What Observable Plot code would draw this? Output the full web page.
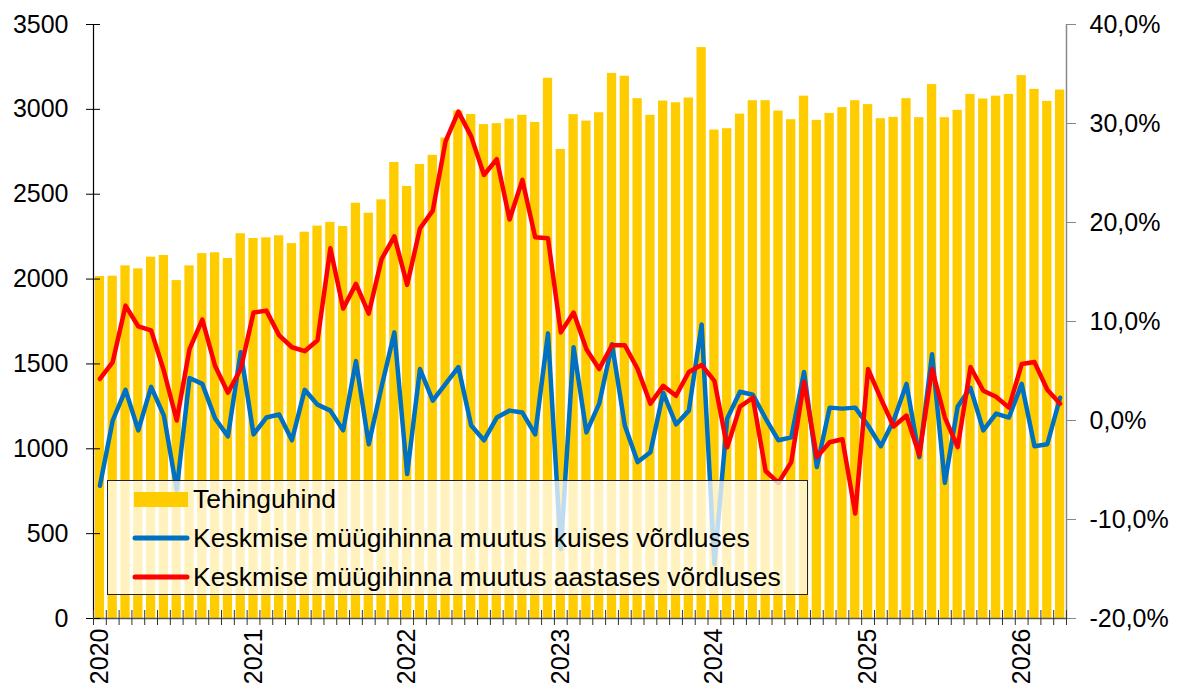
<!DOCTYPE html>
<html><head><meta charset="utf-8">
<script src="https://cdn.jsdelivr.net/npm/d3@7"></script>
<script src="https://cdn.jsdelivr.net/npm/@observablehq/plot@0.6"></script>
<style>
html,body{margin:0;padding:0;background:#fff;}
#wrap{position:relative;width:1182px;height:689px;font-family:"Liberation Sans",Arial,sans-serif;}
#legend{position:absolute;left:107px;top:480px;width:699px;height:113px;background:rgba(255,255,255,0.75);border:1px solid #222;}
#legend .sw{position:absolute;left:26px;width:54px;}
#legend .lbl{position:absolute;left:85px;font-size:26.5px;line-height:30px;color:#000;white-space:nowrap;}
</style></head>
<body><div id="wrap"></div>
<script>
const years = ["2020","2021","2022","2023","2024","2025","2026"];
const price = [2015,2017,2078,2060,2129,2139,1991,2078,2150,2155,2121,2267,
2239,2243,2255,2209,2276,2312,2334,2310,2447,2388,2467,2687,
2546,2675,2729,2831,2990,2970,2910,2916,2943,2965,2923,3183,
2764,2969,2931,2980,3212,3195,3063,2965,3049,3039,3067,3364,
2878,2886,2972,3051,3051,2990,2939,3078,2935,2976,3010,3051,
3028,2945,2953,3063,2951,3146,2951,2994,3088,3061,3078,3088,
3199,3118,3047,3114];
const mom = [-6.6,0.0,3.1,-1.0,3.4,0.5,-7.0,4.3,3.7,0.2,-1.6,6.9,
-1.4,0.3,0.6,-2.0,3.1,1.6,1.0,-1.0,6.0,-2.4,3.4,8.9,
-5.4,5.2,2.0,3.7,5.4,-0.5,-2.0,0.3,1.0,0.8,-1.4,8.8,
-13.0,7.4,-1.2,1.7,7.7,-0.5,-4.2,-3.2,2.8,-0.4,1.0,9.7,
-14.5,0.2,2.9,2.6,0.2,-2.0,-1.7,4.9,-4.7,1.3,1.2,1.3,
-0.5,-2.6,0.0,3.7,-3.7,6.7,-6.3,1.4,3.3,-1.0,0.7,0.3,
3.7,-2.6,-2.4,2.3];
const yoy = [4.2,5.9,11.6,9.5,9.1,5.0,0.0,7.2,10.2,5.5,2.8,5.2,
10.9,11.1,8.6,7.4,7.0,8.1,17.4,11.3,13.8,10.8,16.3,18.6,
13.7,19.4,21.2,28.2,31.2,28.7,24.8,26.4,20.3,24.3,18.5,18.4,
8.9,10.9,7.2,5.2,7.6,7.6,5.2,1.7,3.5,2.5,4.9,5.6,
4.0,-2.7,1.4,2.3,-5.1,-6.3,-4.2,3.9,-3.7,-2.2,-1.9,-9.4,
5.2,2.2,-0.6,0.5,-3.5,5.2,0.3,-2.7,5.4,3.0,2.4,1.3,
5.7,5.9,3.1,1.7];
const priceTicks = [0,500,1000,1500,2000,2500,3000,3500];
const pctTicks = [-20,-10,0,10,20,30,40];
const seriesNames = ["Tehinguhind","Keskmise müügihinna muutus kuises võrdluses","Keskmise müügihinna muutus aastases võrdluses"];
const seriesColors = ["#FFCC00","#0070C0","#FF0000"];

const pctMin = -20, pctMax = 40, priceMax = 3500;
const toY = p => (p - pctMin) / (pctMax - pctMin) * priceMax;
const fromY = v => Math.round(v / priceMax * (pctMax - pctMin) + pctMin);
const n = price.length;
const data = price.map((v, i) => ({i, price: v, mom: mom[i], yoy: yoy[i]}));

const chart = Plot.plot({
  width: 1182, height: 689,
  marginLeft: 93, marginRight: 116, marginTop: 24, marginBottom: 71,
  style: {fontFamily: "Liberation Sans, Arial, sans-serif", fontSize: "25px", background: "white", color: "black", overflow: "visible"},
  x: {type: "linear", domain: [0, n], axis: null, label: null},
  y: {domain: [0, priceMax], axis: null, label: null},
  marks: [
    Plot.rectY(data, {x1: "i", x2: d => d.i + 1, y: "price", fill: seriesColors[0], insetLeft: 1.75, insetRight: 1.75}),
    Plot.ruleX([0], {stroke: "#000", strokeWidth: 1.2}),
    Plot.ruleX([n], {stroke: "#888", strokeWidth: 1.5}),
    Plot.ruleY([0], {stroke: "#555", strokeWidth: 1.5}),
    Plot.lineY(data, {x: d => d.i + 0.5, y: d => toY(d.mom), stroke: seriesColors[1], strokeWidth: 4.5, strokeLinejoin: "round", strokeLinecap: "round"}),
    Plot.lineY(data, {x: d => d.i + 0.5, y: d => toY(d.yoy), stroke: seriesColors[2], strokeWidth: 4.5, strokeLinejoin: "round", strokeLinecap: "round"}),
    Plot.axisY({anchor: "left", label: null, ticks: priceTicks, tickFormat: d => String(d), tickSize: 14, dx: 7, tickPadding: 18, stroke: "#000", fill: "#000", strokeOpacity: 1}),
    Plot.axisY({anchor: "right", label: null, ticks: pctTicks.map(toY), tickFormat: v => fromY(v).toFixed(1).replace(".", ",") + "%", tickSize: 9, tickPadding: 14, stroke: "#888", fill: "#000", strokeOpacity: 1}),
    Plot.axisX({label: null, ticks: d3.range(0, n + 1), tickFormat: () => "", tickSize: 15, dy: -8, stroke: "#333", strokeOpacity: 1}),
    Plot.axisX({label: null, ticks: years.map((y, k) => k * 12 + 0.5), tickFormat: d => years[Math.floor(d / 12)], tickRotate: -90, tickSize: 0, tickPadding: 10, fill: "#000"})
  ]
});

const wrap = document.getElementById("wrap");
wrap.appendChild(chart);

const legend = document.createElement("div");
legend.id = "legend";
const rowCenters = [18, 57, 96];
seriesNames.forEach((name, k) => {
  const cy = rowCenters[k];
  let sw;
  if (k === 0) {
    sw = document.createElement("div");
    sw.className = "sw";
    sw.style.top = (cy - 7) + "px";
    sw.style.height = "15px";
    sw.style.background = seriesColors[k];
  } else {
    sw = document.createElementNS("http://www.w3.org/2000/svg", "svg");
    sw.setAttribute("width", "60");
    sw.setAttribute("height", "12");
    sw.style.position = "absolute";
    sw.style.left = "23px";
    sw.style.top = (cy - 6) + "px";
    const ln = document.createElementNS("http://www.w3.org/2000/svg", "line");
    ln.setAttribute("x1", "4"); ln.setAttribute("x2", "56");
    ln.setAttribute("y1", "6"); ln.setAttribute("y2", "6");
    ln.setAttribute("stroke", seriesColors[k]);
    ln.setAttribute("stroke-width", "5");
    ln.setAttribute("stroke-linecap", "round");
    sw.appendChild(ln);
  }
  legend.appendChild(sw);
  const lbl = document.createElement("div");
  lbl.className = "lbl";
  lbl.style.top = (cy - 15) + "px";
  lbl.textContent = name;
  legend.appendChild(lbl);
});
wrap.appendChild(legend);
</script>
</body></html>
